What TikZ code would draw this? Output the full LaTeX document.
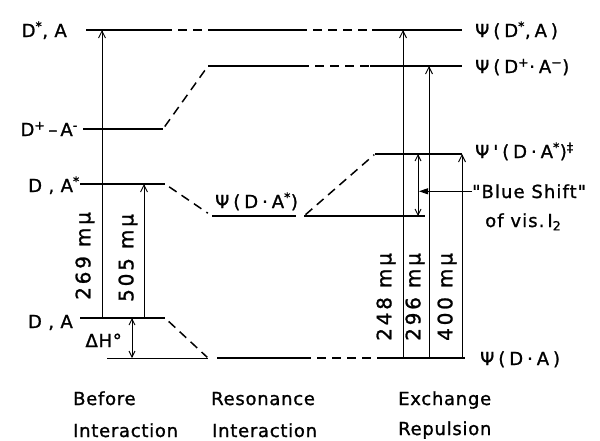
\documentclass[tikz,border=0pt]{standalone}
\usepackage{fontspec}
\setmainfont{DejaVu Sans}[LetterSpace=4,FakeBold=1.2]
\newfontfamily\wfont{DejaVu Sans}[LetterSpace=22,FakeBold=1.2]
\newfontfamily\bfont{DejaVu Sans}[LetterSpace=6,FakeBold=1.2]
\newfontfamily\rfont{DejaVu Sans}[LetterSpace=14,FakeBold=1.2]
\usetikzlibrary{arrows.meta}
\begin{document}
\begin{tikzpicture}[x=1pt,y=-1pt,
  lvl/.style={line width=2.6pt},
  thinlvl/.style={line width=1pt},
  link/.style={line width=1.5pt, dash pattern=on 9pt off 6pt},
  trans/.style={line width=0.9pt, -{Straight Barb[length=7pt,width=7pt]}},
  dbl/.style={line width=0.9pt, {Straight Barb[length=6pt,width=6pt]}-{Straight Barb[length=6pt,width=6pt]}},
  shiftarrow/.style={line width=0.8pt, -{Triangle[length=9pt,width=6pt]}},
  lbl/.style={inner sep=0pt, font=\fontsize{18}{21}\selectfont},
  rlbl/.style={inner sep=0pt, font=\wfont\fontsize{18}{21}\selectfont},
  blbl/.style={inner sep=0pt, font=\bfont\fontsize{18}{21}\selectfont},
  vlbl/.style={inner sep=0pt, rotate=90, anchor=west, font=\rfont\fontsize{20}{23}\selectfont}
]
\useasboundingbox (0,0) rectangle (600,440);

% ---- level coordinates
\coordinate (t1) at (86,30);  \coordinate (t2) at (163,30);
\coordinate (t3) at (210,30); \coordinate (t4) at (298,30);
\coordinate (t5) at (372,30); \coordinate (t6) at (462,30);

\coordinate (c1) at (83,129); \coordinate (c2) at (163,129);
\coordinate (c3) at (208,66); \coordinate (c4) at (300,66);
\coordinate (c5) at (370,66); \coordinate (c6) at (462,66);

\coordinate (e1) at (80,184);  \coordinate (e2) at (165,184);
\coordinate (e3) at (212,216); \coordinate (e4) at (296,216);
\coordinate (e5) at (304,216); \coordinate (e6) at (425,216);
\coordinate (p1) at (375,154); \coordinate (p2) at (462,154);

\coordinate (g1) at (80,318);  \coordinate (g2) at (165,318);
\coordinate (b0) at (107,358); \coordinate (b1) at (208,358);
\coordinate (b2) at (217,358); \coordinate (b3) at (302,358);
\coordinate (b4) at (382,358); \coordinate (b5) at (465,358);

% ---- levels
\draw[lvl] (t1) -- (t2);
\draw[lvl] (t3) -- (t4);
\draw[lvl] (t5) -- (t6);
\draw[lvl] (c1) -- (c2);
\draw[lvl] (c3) -- (c4);
\draw[lvl] (c5) -- (c6);
\draw[lvl] (e1) -- (e2);
\draw[lvl] (e3) -- (e4);
\draw[lvl] (e5) -- (e6);
\draw[lvl] (p1) -- (p2);
\draw[lvl] (g1) -- (g2);
\draw[thinlvl] (b0) -- (b1);
\draw[lvl] (b2) -- (b3);
\draw[lvl] (b4) -- (b5);

% ---- dashed correlation lines
\draw[link] (t2) -- (t3);
\draw[link] (t4) -- (t5);
\draw[link, shorten <=3pt, shorten >=2pt] (c2) -- (c3);
\draw[link] (c4) -- (c5);
\draw[link, shorten <=5pt, shorten >=5pt] (e2) -- (e3);
\draw[link, shorten <=2pt, shorten >=1pt] (e5) -- (p1);
\draw[link, shorten <=5pt, shorten >=1pt] (g2) -- (b1);
\draw[link] (b3) -- (b4);

% ---- transition arrows
\coordinate (a269b) at (102,318); \coordinate (a269t) at (102,30);
\coordinate (a505b) at (144,318); \coordinate (a505t) at (144,184);
\coordinate (dhb) at (132,358);   \coordinate (dht) at (132,318);
\coordinate (a248b) at (403,358); \coordinate (a248t) at (403,30);
\coordinate (a296b) at (429,358); \coordinate (a296t) at (429,66);
\coordinate (a400b) at (462,358); \coordinate (a400t) at (462,154);
\coordinate (bsb) at (418,216);   \coordinate (bst) at (418,154);
\draw[trans] (a269b) -- (a269t);
\draw[trans] (a505b) -- (a505t);
\draw[dbl] (dhb) -- (dht);
\draw[trans] (a248b) -- (a248t);
\draw[trans] (a296b) -- (a296t);
\draw[trans] (a400b) -- (a400t);
\draw[dbl] (bsb) -- (bst);

% ---- rotated wavelength labels
\node[vlbl] (l269) at (85,300) {269\kern9pt m\textmu};
\node[vlbl] (l505) at (128,302) {505\kern9pt m\textmu};
\node[vlbl] (l248) at (386,341) {248\kern9pt m\textmu};
\node[vlbl] (l296) at (415,341) {296\kern9pt m\textmu};
\node[vlbl] (l400) at (447,341) {400\kern9pt m\textmu};

% ---- left labels
\node[lbl, anchor=base east] (dsa) at (67,37) {D\textsuperscript{*}, A};
\node[lbl, anchor=base east] (dpa) at (78,136) {D\textsuperscript{+}\,–\,A\textsuperscript{-}};
\node[lbl, anchor=base east] (das) at (80,192) {D , A\textsuperscript{*}};
\node[lbl, anchor=base east] (da) at (73,328) {D , A};
\node[lbl, anchor=base east] (dh) at (122,347) {ΔH°};

% ---- middle label
\node[rlbl, anchor=base west] (mid) at (215,208) {Ψ(D·A\textsuperscript{*})};

% ---- right labels
\node[rlbl, anchor=base west] (r1) at (475,37) {Ψ(D\textsuperscript{*},A)};
\node[rlbl, anchor=base west] (r2) at (475,73) {Ψ(D\textsuperscript{+}·A\textsuperscript{−})};
\node[rlbl, anchor=base west] (r3) at (475,158) {Ψ'(D·A\textsuperscript{*})\textsuperscript{‡}};
\node[blbl, anchor=base west] (bs) at (472,198) {"Blue Shift"};
\node[blbl, anchor=base west] (vis) at (485,227) {of vis.\,I\textsubscript{2}};
\node[rlbl, anchor=base west] (r4) at (480,365) {Ψ(D·A)};

\coordinate (bsx) at (419,0);
\draw[shiftarrow] (bs.west) -- (bs.west -| bsx);

% ---- column titles
\node[lbl, anchor=base west] (bef1) at (73,405) {Before};
\node[lbl, anchor=base west] (bef2) at (73,437) {Interaction};
\node[lbl, anchor=base west] (res1) at (211,405) {Resonance};
\node[lbl, anchor=base west] (res2) at (212,437) {Interaction};
\node[lbl, anchor=base west] (ex1) at (398,405) {Exchange};
\node[lbl, anchor=base west] (ex2) at (398,435) {Repulsion};
\end{tikzpicture}
\end{document}
